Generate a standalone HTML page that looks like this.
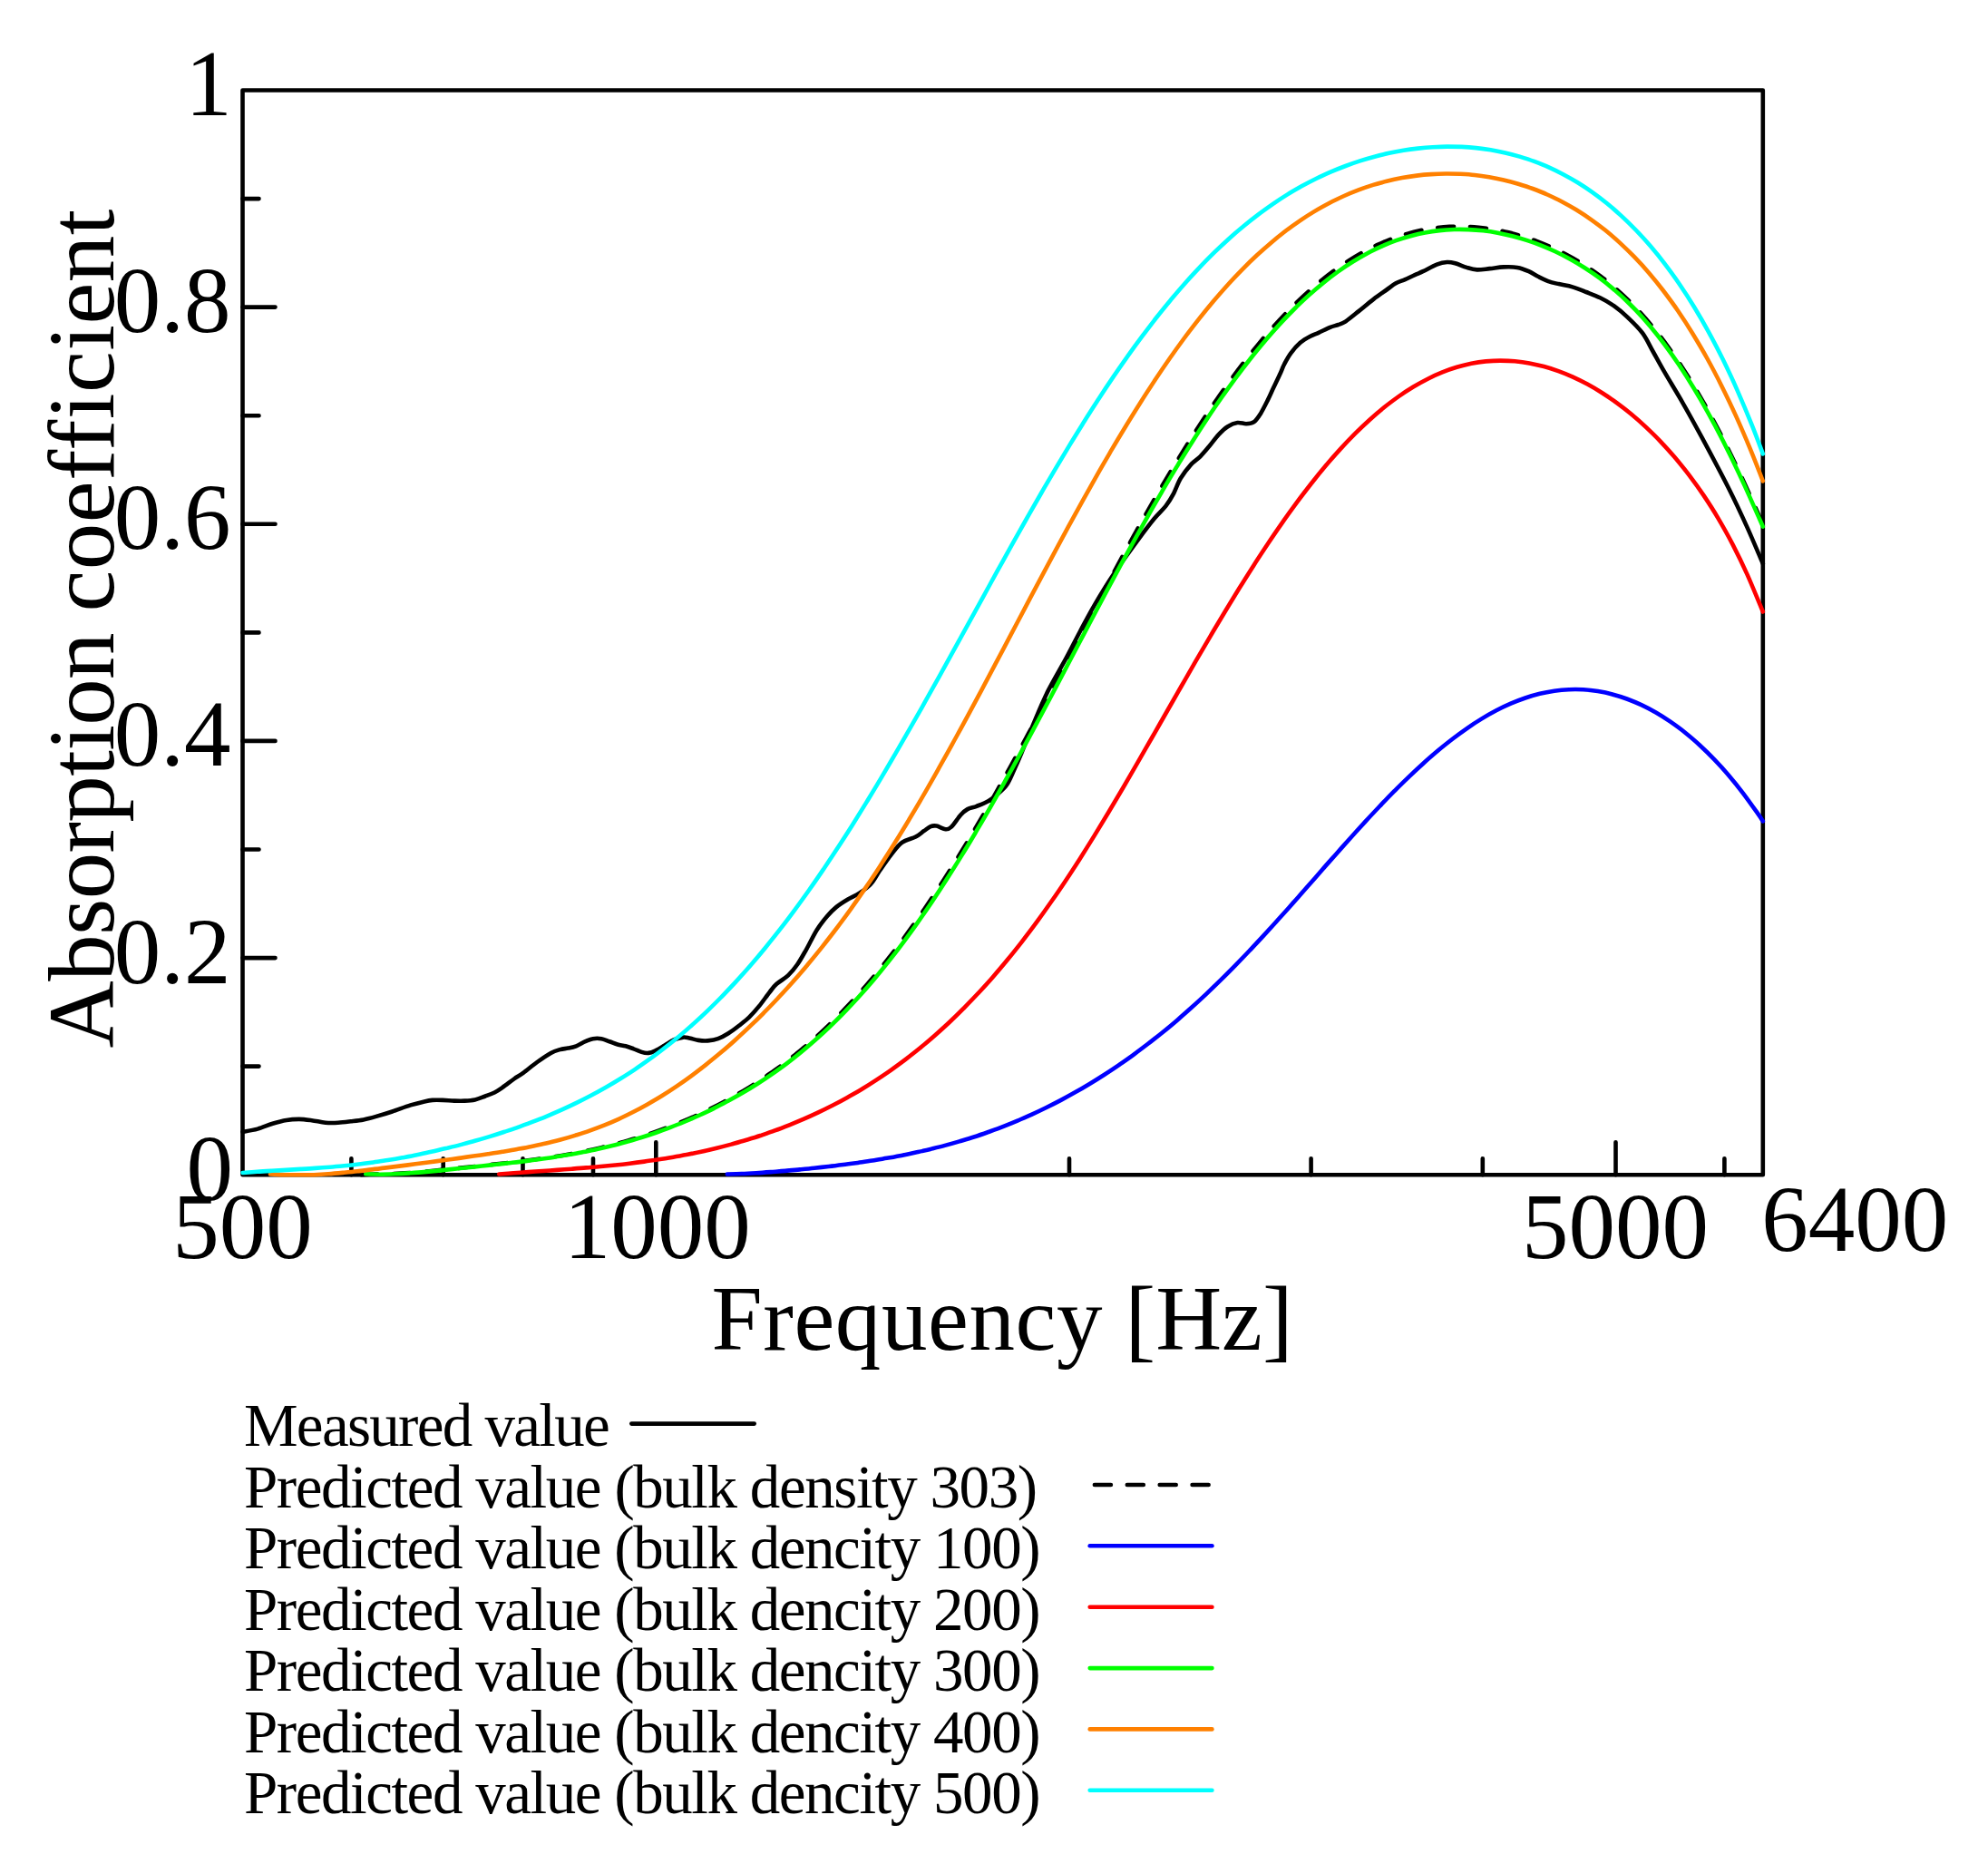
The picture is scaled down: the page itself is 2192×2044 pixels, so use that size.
<!DOCTYPE html>
<html><head><meta charset="utf-8"><title>Absorption coefficient</title>
<style>
html,body{margin:0;padding:0;background:#fff}
svg{display:block}
text{font-family:"Liberation Serif",serif;fill:#000}
</style></head><body>
<svg width="2192" height="2044" viewBox="0 0 2192 2044">
<rect width="2192" height="2044" fill="#fff"/>
<path d="M267.5 1175.6h18M267.5 1056.1h36M267.5 936.5h18M267.5 816.9h36M267.5 697.4h18M267.5 577.8h36M267.5 458.2h18M267.5 338.6h36M267.5 219.1h18M387.4 1295.2v-18M488.7 1295.2v-18M576.5 1295.2v-18M654.0 1295.2v-18M723.3 1295.2v-36M1179.0 1295.2v-18M1445.6 1295.2v-18M1634.8 1295.2v-18M1781.5 1295.2v-36M1901.4 1295.2v-18" stroke="#000" stroke-width="4.6" stroke-linecap="round" fill="none"/>
<rect x="267.5" y="99.5" width="1676.3" height="1195.7" fill="none" stroke="#000" stroke-width="4.6" stroke-linejoin="round"/>
<path d="M267.5 1247.8C270.3 1247.3 278.6 1246.1 284.1 1244.6C289.6 1243.1 295.3 1240.3 300.6 1238.7C305.9 1237.1 311.0 1235.7 315.8 1234.9C320.6 1234.1 325.1 1233.9 329.7 1233.9C334.3 1234.0 338.8 1234.6 343.7 1235.2C348.6 1235.8 354.0 1237.3 358.9 1237.7C363.8 1238.1 368.1 1238.0 372.8 1237.7C377.5 1237.5 382.2 1236.8 386.8 1236.2C391.4 1235.7 396.1 1235.3 400.7 1234.4C405.3 1233.5 409.4 1232.4 414.7 1230.9C420.0 1229.4 426.1 1227.6 432.4 1225.5C438.7 1223.4 446.8 1220.2 452.7 1218.4C458.6 1216.6 463.9 1215.3 467.9 1214.4C471.9 1213.5 473.4 1213.2 476.8 1212.9C480.2 1212.7 484.2 1212.8 488.2 1212.9C492.2 1213.0 496.9 1213.5 500.9 1213.6C504.9 1213.7 508.5 1213.8 512.3 1213.6C516.1 1213.4 519.9 1213.2 523.7 1212.4C527.5 1211.6 531.5 1209.8 535.1 1208.5C538.7 1207.2 542.0 1206.1 545.2 1204.5C548.4 1202.9 550.5 1201.4 554.1 1198.9C557.7 1196.4 563.0 1192.2 566.8 1189.5C570.6 1186.8 572.7 1186.0 576.9 1182.9C581.1 1179.8 587.1 1174.7 592.2 1171.0C597.3 1167.3 603.2 1163.2 607.4 1160.9C611.6 1158.6 614.3 1158.0 617.5 1157.1C620.7 1156.2 623.4 1156.2 626.4 1155.6C629.4 1155.0 632.1 1154.5 635.3 1153.3C638.5 1152.1 642.3 1149.5 645.4 1148.2C648.5 1146.9 650.8 1145.7 653.8 1145.2C656.8 1144.7 660.1 1144.7 663.1 1145.2C666.1 1145.7 669.0 1147.2 672.0 1148.2C675.0 1149.2 677.9 1150.7 680.9 1151.5C683.9 1152.3 686.8 1152.5 689.8 1153.3C692.8 1154.1 695.6 1155.2 698.6 1156.3C701.6 1157.4 704.8 1159.1 707.5 1159.9C710.2 1160.7 712.6 1161.2 715.1 1160.9C717.6 1160.6 719.7 1159.7 722.7 1158.3C725.7 1156.9 729.5 1154.5 732.9 1152.5C736.3 1150.5 739.6 1147.9 743.0 1146.4C746.4 1144.9 750.4 1143.9 753.2 1143.6C756.0 1143.3 757.2 1143.9 760.0 1144.4C762.8 1145.0 766.7 1146.4 770.1 1146.9C773.5 1147.4 776.7 1147.7 780.3 1147.4C783.9 1147.1 787.9 1146.6 791.7 1145.2C795.5 1143.8 799.3 1141.7 803.1 1139.3C806.9 1136.9 810.7 1134.0 814.5 1131.0C818.3 1128.0 822.1 1125.3 825.9 1121.6C829.7 1117.9 833.5 1113.6 837.3 1108.9C841.1 1104.2 845.5 1097.7 848.7 1093.7C851.9 1089.7 852.9 1087.8 856.3 1084.8C859.7 1081.8 865.2 1079.0 869.0 1075.4C872.8 1071.8 875.8 1068.2 879.2 1063.3C882.6 1058.4 885.7 1052.6 889.3 1046.3C892.9 1040.0 896.9 1031.2 900.7 1025.2C904.5 1019.2 908.5 1014.2 912.1 1010.0C915.7 1005.8 918.5 1003.0 922.3 999.9C926.1 996.8 930.7 994.0 934.9 991.5C939.1 989.0 943.4 987.5 947.6 984.7C951.8 981.9 956.5 978.7 960.3 974.5C964.1 970.3 966.6 964.8 970.4 959.3C974.2 953.8 979.1 946.7 983.1 941.6C987.1 936.5 990.1 932.1 994.5 928.9C998.9 925.7 1005.7 924.6 1009.7 922.5C1013.7 920.4 1015.9 918.1 1018.6 916.2C1021.4 914.3 1023.9 912.0 1026.2 911.1C1028.5 910.2 1029.8 910.1 1032.6 910.6C1035.3 911.1 1040.0 914.0 1042.7 914.2C1045.4 914.4 1046.2 914.2 1049.0 911.6C1051.8 909.0 1056.2 901.8 1059.2 898.5C1062.2 895.2 1063.8 893.7 1066.8 892.1C1069.8 890.5 1073.1 890.3 1076.9 888.8C1080.7 887.3 1085.8 885.4 1089.6 883.2C1093.4 881.0 1096.4 878.6 1099.8 875.6C1103.2 872.6 1107.0 869.7 1109.9 865.5C1112.9 861.3 1114.8 856.2 1117.5 850.3C1120.2 844.4 1122.6 839.0 1126.4 830.0C1130.2 821.0 1135.5 807.5 1140.3 796.1C1145.1 784.8 1149.6 773.7 1155.5 761.9C1161.4 750.1 1169.9 736.1 1175.8 725.1C1181.7 714.1 1185.9 705.5 1191.0 696.0C1196.1 686.5 1199.9 678.9 1206.2 668.1C1212.5 657.3 1220.1 644.6 1229.1 631.3C1238.1 618.0 1252.7 598.1 1260.0 588.2C1267.3 578.3 1268.5 576.8 1272.7 571.7C1276.9 566.6 1281.8 562.4 1285.4 557.8C1289.0 553.1 1291.5 548.9 1294.2 543.8C1296.9 538.7 1298.6 532.6 1301.8 527.3C1305.0 522.0 1309.6 516.1 1313.2 512.1C1316.8 508.1 1320.0 506.7 1323.4 503.3C1326.8 499.9 1330.1 495.8 1333.5 491.8C1336.9 487.8 1340.3 482.8 1343.7 479.2C1347.1 475.6 1350.3 472.5 1353.8 470.3C1357.2 468.1 1361.0 466.5 1364.4 466.0C1367.8 465.5 1371.0 467.3 1374.1 467.2C1377.1 467.1 1380.0 467.0 1382.7 465.1C1385.4 463.2 1387.5 459.8 1390.0 455.9C1392.5 451.9 1395.4 446.0 1397.7 441.4C1400.0 436.8 1401.5 433.2 1403.9 428.1C1406.3 423.0 1410.1 415.1 1412.1 410.7C1414.1 406.3 1414.2 405.1 1416.1 401.5C1418.0 397.9 1420.4 393.3 1423.3 389.4C1426.2 385.4 1430.1 380.9 1433.7 377.8C1437.3 374.7 1441.4 372.5 1444.8 370.7C1448.2 368.9 1450.3 368.4 1453.9 366.8C1457.5 365.2 1463.0 362.4 1466.6 360.9C1470.2 359.4 1472.7 359.1 1475.6 358.0C1478.5 356.9 1480.0 356.8 1483.8 354.3C1487.5 351.8 1493.0 347.2 1498.1 343.1C1503.2 339.0 1509.4 333.7 1514.5 329.8C1519.6 325.9 1524.8 322.4 1528.9 319.5C1533.0 316.6 1535.7 314.2 1539.1 312.3C1542.5 310.4 1545.8 309.7 1549.3 308.2C1552.8 306.7 1556.7 304.6 1560.0 303.1C1563.3 301.6 1565.0 301.1 1569.0 299.2C1573.0 297.3 1579.8 293.3 1584.2 291.6C1588.6 289.9 1592.2 289.2 1595.6 289.0C1599.0 288.8 1600.9 289.3 1604.5 290.3C1608.1 291.3 1613.2 293.7 1617.2 294.9C1621.2 296.1 1624.4 297.2 1628.6 297.4C1632.8 297.6 1637.7 296.6 1642.6 296.1C1647.5 295.6 1652.7 294.6 1657.8 294.4C1662.9 294.2 1668.3 294.1 1673.0 294.9C1677.7 295.7 1681.9 297.5 1685.7 299.2C1689.5 300.9 1692.2 303.0 1695.8 304.8C1699.4 306.6 1703.4 308.7 1707.2 310.1C1711.0 311.5 1714.2 312.1 1718.6 313.1C1723.0 314.2 1728.7 314.9 1733.8 316.4C1738.9 317.9 1743.9 320.0 1749.0 322.0C1754.1 324.0 1759.2 325.8 1764.3 328.3C1769.4 330.8 1774.4 333.6 1779.5 337.2C1784.6 340.8 1789.4 344.9 1794.7 349.9C1800.0 354.9 1806.6 361.1 1811.2 367.4C1815.8 373.7 1818.6 380.4 1822.6 387.5C1826.6 394.6 1829.8 400.7 1835.3 410.2C1840.8 419.7 1848.6 432.3 1855.5 444.3C1862.4 456.3 1868.2 466.8 1876.6 482.4C1885.0 498.0 1897.6 521.5 1905.9 538.0C1914.2 554.5 1920.3 567.7 1926.6 581.6C1932.9 595.5 1940.9 614.9 1943.8 621.5" fill="none" stroke="#000" stroke-width="4.6" stroke-linecap="round" stroke-linejoin="round"/>
<path d="M398.3 1295.1C401.0 1295.0 409.0 1294.7 414.3 1294.5C419.6 1294.3 425.0 1294.4 430.3 1294.2C435.6 1294.0 441.0 1293.7 446.3 1293.4C451.6 1293.1 457.0 1292.7 462.3 1292.2C467.6 1291.8 473.0 1291.2 478.3 1290.7C483.6 1290.2 489.0 1289.6 494.3 1289.1C499.6 1288.5 505.0 1288.0 510.3 1287.4C515.6 1286.8 521.0 1286.3 526.3 1285.7C531.6 1285.1 537.0 1284.5 542.3 1283.9C547.6 1283.3 553.0 1282.8 558.3 1282.2C563.6 1281.6 569.0 1281.0 574.3 1280.3C579.6 1279.6 585.0 1278.9 590.3 1278.2C595.6 1277.5 601.0 1276.7 606.3 1275.9C611.6 1275.1 617.0 1274.3 622.3 1273.4C627.6 1272.5 633.0 1271.5 638.3 1270.5C643.6 1269.5 649.0 1268.4 654.3 1267.2C659.6 1266.0 665.0 1264.7 670.3 1263.4C675.6 1262.1 681.0 1260.7 686.3 1259.2C691.6 1257.7 697.0 1256.2 702.3 1254.6C707.6 1253.0 713.0 1251.2 718.3 1249.4C723.6 1247.6 729.0 1245.7 734.3 1243.7C739.6 1241.7 745.0 1239.6 750.3 1237.4C755.6 1235.2 761.0 1232.9 766.3 1230.5C771.6 1228.1 777.0 1225.5 782.3 1222.9C787.6 1220.3 793.0 1217.6 798.3 1214.7C803.6 1211.8 809.0 1208.9 814.3 1205.8C819.6 1202.7 825.0 1199.5 830.3 1196.1C835.6 1192.7 841.0 1189.2 846.3 1185.5C851.6 1181.8 857.0 1178.1 862.3 1174.1C867.6 1170.1 873.0 1165.9 878.3 1161.6C883.6 1157.3 889.0 1152.9 894.3 1148.2C899.6 1143.5 905.0 1138.7 910.3 1133.6C915.6 1128.5 921.0 1123.2 926.3 1117.8C931.6 1112.3 937.0 1106.8 942.3 1100.9C947.6 1095.1 953.0 1089.0 958.3 1082.7C963.6 1076.4 969.0 1070.0 974.3 1063.3C979.6 1056.6 985.0 1049.8 990.3 1042.7C995.6 1035.6 1001.0 1028.4 1006.3 1020.9C1011.6 1013.4 1017.0 1005.7 1022.3 997.8C1027.6 989.9 1033.0 981.9 1038.3 973.7C1043.6 965.5 1049.0 957.0 1054.3 948.4C1059.6 939.8 1065.0 930.9 1070.3 922.0C1075.6 913.1 1081.0 904.0 1086.3 894.8C1091.6 885.6 1097.0 876.1 1102.3 866.6C1107.6 857.1 1113.0 847.4 1118.3 837.7C1123.6 828.0 1129.0 818.1 1134.3 808.2C1139.6 798.3 1145.0 788.3 1150.3 778.3C1155.6 768.3 1161.0 758.1 1166.3 748.0C1171.6 737.9 1177.0 727.6 1182.3 717.5C1187.6 707.4 1193.0 697.2 1198.3 687.1C1203.6 677.0 1209.0 666.9 1214.3 656.9C1219.6 646.9 1225.0 636.9 1230.3 627.0C1235.6 617.1 1241.0 607.4 1246.3 597.7C1251.6 588.0 1257.0 578.4 1262.3 569.0C1267.6 559.6 1273.0 550.2 1278.3 541.1C1283.6 532.0 1289.0 522.9 1294.3 514.1C1299.6 505.3 1305.0 496.6 1310.3 488.1C1315.6 479.6 1321.0 471.3 1326.3 463.2C1331.6 455.1 1337.0 447.2 1342.3 439.5C1347.6 431.8 1353.0 424.4 1358.3 417.1C1363.6 409.8 1369.0 402.7 1374.3 395.9C1379.6 389.1 1385.0 382.5 1390.3 376.1C1395.6 369.8 1401.0 363.7 1406.3 357.8C1411.6 351.9 1417.0 346.2 1422.3 340.8C1427.6 335.4 1433.0 330.3 1438.3 325.4C1443.6 320.5 1449.0 315.8 1454.3 311.4C1459.6 307.0 1465.0 302.8 1470.3 298.9C1475.6 295.0 1481.0 291.3 1486.3 287.9C1491.6 284.5 1497.0 281.2 1502.3 278.3C1507.6 275.4 1513.0 272.7 1518.3 270.2C1523.6 267.7 1529.0 265.4 1534.3 263.4C1539.6 261.4 1545.0 259.7 1550.3 258.1C1555.6 256.6 1561.0 255.2 1566.3 254.1C1571.6 253.0 1577.0 252.1 1582.3 251.4C1587.6 250.7 1593.0 250.2 1598.3 249.9C1603.6 249.6 1609.0 249.6 1614.3 249.7C1619.6 249.8 1625.0 250.2 1630.3 250.7C1635.6 251.2 1641.0 251.9 1646.3 252.8C1651.6 253.7 1657.0 254.8 1662.3 256.1C1667.6 257.4 1673.0 258.8 1678.3 260.4C1683.6 262.0 1689.0 263.8 1694.3 265.8C1699.6 267.8 1705.0 270.0 1710.3 272.4C1715.6 274.8 1721.0 277.4 1726.3 280.2C1731.6 283.0 1737.0 286.0 1742.3 289.3C1747.6 292.6 1753.0 296.1 1758.3 299.9C1763.6 303.7 1769.0 307.6 1774.3 312.0C1779.6 316.4 1785.0 321.1 1790.3 326.1C1795.6 331.1 1801.0 336.4 1806.3 342.1C1811.6 347.8 1817.0 353.9 1822.3 360.4C1827.6 366.9 1833.0 373.8 1838.3 381.1C1843.6 388.4 1849.0 396.1 1854.3 404.2C1859.6 412.3 1865.0 420.9 1870.3 429.9C1875.6 438.9 1881.0 448.3 1886.3 458.1C1891.6 467.9 1897.0 478.1 1902.3 488.7C1907.6 499.3 1913.0 510.4 1918.3 521.7C1923.6 533.0 1930.0 547.2 1934.3 556.7C1938.5 566.2 1942.2 574.8 1943.8 578.4" fill="none" stroke="#000" stroke-width="4.6" stroke-linecap="round" stroke-linejoin="round" stroke-dasharray="18 17.9"/>
<path d="M801.8 1294.5C804.5 1294.4 812.5 1294.2 817.8 1294.0C823.1 1293.8 828.5 1293.5 833.8 1293.2C839.1 1292.9 844.5 1292.5 849.8 1292.1C855.1 1291.7 860.5 1291.4 865.8 1290.9C871.1 1290.5 876.5 1289.9 881.8 1289.4C887.1 1288.9 892.5 1288.4 897.8 1287.8C903.1 1287.2 908.5 1286.6 913.8 1286.0C919.1 1285.4 924.5 1284.7 929.8 1284.0C935.1 1283.3 940.5 1282.7 945.8 1281.9C951.1 1281.2 956.5 1280.3 961.8 1279.5C967.1 1278.7 972.5 1277.7 977.8 1276.8C983.1 1275.9 988.5 1274.9 993.8 1273.9C999.1 1272.9 1004.5 1271.8 1009.8 1270.6C1015.1 1269.4 1020.5 1268.2 1025.8 1266.9C1031.1 1265.6 1036.5 1264.3 1041.8 1262.9C1047.1 1261.5 1052.5 1260.0 1057.8 1258.4C1063.1 1256.8 1068.5 1255.2 1073.8 1253.5C1079.1 1251.8 1084.5 1249.9 1089.8 1248.0C1095.1 1246.1 1100.5 1244.2 1105.8 1242.1C1111.1 1240.0 1116.5 1237.8 1121.8 1235.6C1127.1 1233.3 1132.5 1231.0 1137.8 1228.6C1143.1 1226.2 1148.5 1223.6 1153.8 1221.0C1159.1 1218.4 1164.5 1215.7 1169.8 1212.9C1175.1 1210.1 1180.5 1207.1 1185.8 1204.1C1191.1 1201.1 1196.5 1197.9 1201.8 1194.7C1207.1 1191.5 1212.5 1188.1 1217.8 1184.7C1223.1 1181.3 1228.5 1177.8 1233.8 1174.1C1239.1 1170.4 1244.5 1166.7 1249.8 1162.8C1255.1 1158.9 1260.5 1154.9 1265.8 1150.8C1271.1 1146.7 1276.5 1142.5 1281.8 1138.2C1287.1 1133.9 1292.5 1129.5 1297.8 1124.9C1303.1 1120.3 1308.5 1115.6 1313.8 1110.8C1319.1 1106.0 1324.5 1101.1 1329.8 1096.1C1335.1 1091.1 1340.5 1085.9 1345.8 1080.7C1351.1 1075.5 1356.5 1070.2 1361.8 1064.7C1367.1 1059.2 1372.5 1053.6 1377.8 1048.0C1383.1 1042.4 1388.5 1036.7 1393.8 1030.9C1399.1 1025.1 1404.5 1019.2 1409.8 1013.3C1415.1 1007.4 1420.5 1001.4 1425.8 995.4C1431.1 989.4 1436.5 983.4 1441.8 977.3C1447.1 971.2 1452.5 965.1 1457.8 959.0C1463.1 952.9 1468.5 946.9 1473.8 940.9C1479.1 934.9 1484.5 928.9 1489.8 923.0C1495.1 917.1 1500.5 911.2 1505.8 905.4C1511.1 899.6 1516.5 893.9 1521.8 888.3C1527.1 882.7 1532.5 877.2 1537.8 871.8C1543.1 866.4 1548.5 861.2 1553.8 856.1C1559.1 851.0 1564.5 846.0 1569.8 841.2C1575.1 836.4 1580.5 831.8 1585.8 827.3C1591.1 822.8 1596.5 818.6 1601.8 814.5C1607.1 810.4 1612.5 806.5 1617.8 802.8C1623.1 799.1 1628.5 795.6 1633.8 792.4C1639.1 789.1 1644.5 786.1 1649.8 783.3C1655.1 780.5 1660.5 778.0 1665.8 775.7C1671.1 773.4 1676.5 771.3 1681.8 769.5C1687.1 767.7 1692.5 766.1 1697.8 764.8C1703.1 763.5 1708.5 762.5 1713.8 761.7C1719.1 760.9 1724.5 760.4 1729.8 760.2C1735.1 760.0 1740.5 760.0 1745.8 760.3C1751.1 760.6 1756.5 761.2 1761.8 762.1C1767.1 763.0 1772.5 764.1 1777.8 765.5C1783.1 766.9 1788.5 768.5 1793.8 770.5C1799.1 772.5 1804.5 774.7 1809.8 777.2C1815.1 779.7 1820.5 782.5 1825.8 785.6C1831.1 788.7 1836.5 792.1 1841.8 795.7C1847.1 799.4 1852.5 803.2 1857.8 807.5C1863.1 811.8 1868.5 816.3 1873.8 821.2C1879.1 826.1 1884.5 831.3 1889.8 836.8C1895.1 842.3 1900.5 848.1 1905.8 854.4C1911.1 860.6 1916.5 867.3 1921.8 874.3C1927.1 881.3 1934.1 891.2 1937.8 896.4C1941.5 901.6 1942.8 903.9 1943.8 905.4" fill="none" stroke="#0000ff" stroke-width="4.6" stroke-linecap="round" stroke-linejoin="round"/>
<path d="M550.3 1294.5C553.0 1294.3 561.0 1293.7 566.3 1293.3C571.6 1292.9 577.0 1292.5 582.3 1292.1C587.6 1291.7 593.0 1291.4 598.3 1291.0C603.6 1290.6 609.0 1290.3 614.3 1289.9C619.6 1289.5 625.0 1289.1 630.3 1288.7C635.6 1288.3 641.0 1287.9 646.3 1287.4C651.6 1287.0 657.0 1286.5 662.3 1286.0C667.6 1285.5 673.0 1285.0 678.3 1284.5C683.6 1284.0 689.0 1283.4 694.3 1282.7C699.6 1282.0 705.0 1281.3 710.3 1280.6C715.6 1279.9 721.0 1279.1 726.3 1278.3C731.6 1277.5 737.0 1276.6 742.3 1275.7C747.6 1274.8 753.0 1273.8 758.3 1272.8C763.6 1271.8 769.0 1270.7 774.3 1269.5C779.6 1268.3 785.0 1267.0 790.3 1265.7C795.6 1264.4 801.0 1263.0 806.3 1261.6C811.6 1260.1 817.0 1258.6 822.3 1257.0C827.6 1255.4 833.0 1253.8 838.3 1252.0C843.6 1250.2 849.0 1248.4 854.3 1246.4C859.6 1244.5 865.0 1242.4 870.3 1240.3C875.6 1238.2 881.0 1236.0 886.3 1233.7C891.6 1231.4 897.0 1228.9 902.3 1226.4C907.6 1223.9 913.0 1221.2 918.3 1218.5C923.6 1215.8 929.0 1212.9 934.3 1209.9C939.6 1206.9 945.0 1203.9 950.3 1200.7C955.6 1197.5 961.0 1194.1 966.3 1190.6C971.6 1187.1 977.0 1183.5 982.3 1179.8C987.6 1176.0 993.0 1172.1 998.3 1168.1C1003.6 1164.0 1009.0 1159.8 1014.3 1155.5C1019.6 1151.2 1025.0 1146.7 1030.3 1142.0C1035.6 1137.3 1041.0 1132.5 1046.3 1127.5C1051.6 1122.5 1057.0 1117.3 1062.3 1111.9C1067.6 1106.5 1073.0 1101.0 1078.3 1095.3C1083.6 1089.6 1089.0 1083.8 1094.3 1077.7C1099.6 1071.6 1105.0 1065.3 1110.3 1058.8C1115.6 1052.3 1121.0 1045.6 1126.3 1038.8C1131.6 1032.0 1137.0 1025.0 1142.3 1017.7C1147.6 1010.5 1153.0 1002.9 1158.3 995.3C1163.6 987.7 1169.0 979.9 1174.3 971.9C1179.6 963.9 1185.0 955.7 1190.3 947.4C1195.6 939.1 1201.0 930.5 1206.3 921.9C1211.6 913.2 1217.0 904.4 1222.3 895.5C1227.6 886.6 1233.0 877.6 1238.3 868.5C1243.6 859.4 1249.0 850.1 1254.3 840.9C1259.6 831.6 1265.0 822.3 1270.3 813.0C1275.6 803.7 1281.0 794.3 1286.3 785.0C1291.6 775.7 1297.0 766.3 1302.3 757.0C1307.6 747.7 1313.0 738.4 1318.3 729.2C1323.6 720.0 1329.0 710.8 1334.3 701.8C1339.6 692.8 1345.0 683.8 1350.3 675.0C1355.6 666.2 1361.0 657.4 1366.3 648.8C1371.6 640.2 1377.0 631.7 1382.3 623.4C1387.6 615.1 1393.0 607.0 1398.3 599.0C1403.6 591.0 1409.0 583.2 1414.3 575.6C1419.6 568.0 1425.0 560.6 1430.3 553.4C1435.6 546.2 1441.0 539.3 1446.3 532.5C1451.6 525.7 1457.0 519.1 1462.3 512.8C1467.6 506.5 1473.0 500.4 1478.3 494.6C1483.6 488.8 1489.0 483.2 1494.3 477.9C1499.6 472.6 1505.0 467.5 1510.3 462.7C1515.6 457.9 1521.0 453.3 1526.3 449.0C1531.6 444.7 1537.0 440.8 1542.3 437.0C1547.6 433.2 1553.0 429.7 1558.3 426.5C1563.6 423.3 1569.0 420.4 1574.3 417.7C1579.6 415.0 1585.0 412.5 1590.3 410.4C1595.6 408.2 1601.0 406.4 1606.3 404.8C1611.6 403.2 1617.0 401.9 1622.3 400.8C1627.6 399.7 1633.0 398.9 1638.3 398.4C1643.6 397.9 1649.0 397.6 1654.3 397.6C1659.6 397.6 1665.0 397.7 1670.3 398.2C1675.6 398.7 1681.0 399.4 1686.3 400.4C1691.6 401.4 1697.0 402.6 1702.3 404.0C1707.6 405.4 1713.0 407.2 1718.3 409.1C1723.6 411.0 1729.0 413.2 1734.3 415.6C1739.6 418.0 1745.0 420.7 1750.3 423.6C1755.6 426.5 1761.0 429.6 1766.3 433.0C1771.6 436.4 1777.0 440.0 1782.3 443.9C1787.6 447.8 1793.0 451.9 1798.3 456.3C1803.6 460.7 1809.0 465.4 1814.3 470.4C1819.6 475.4 1825.0 480.5 1830.3 486.1C1835.6 491.7 1841.0 497.6 1846.3 503.8C1851.6 510.1 1857.0 516.6 1862.3 523.6C1867.6 530.6 1873.0 538.0 1878.3 545.9C1883.6 553.8 1889.0 562.1 1894.3 571.1C1899.6 580.1 1905.0 589.6 1910.3 599.9C1915.6 610.2 1920.7 620.5 1926.3 632.9C1931.9 645.3 1940.9 667.6 1943.8 674.5" fill="none" stroke="#ff0000" stroke-width="4.6" stroke-linecap="round" stroke-linejoin="round"/>
<path d="M403.3 1294.3C406.0 1294.4 414.0 1294.7 419.3 1294.7C424.6 1294.7 430.0 1294.5 435.3 1294.3C440.6 1294.1 446.0 1293.8 451.3 1293.4C456.6 1293.0 462.0 1292.6 467.3 1292.1C472.6 1291.6 478.0 1291.1 483.3 1290.6C488.6 1290.1 494.0 1289.5 499.3 1288.9C504.6 1288.3 510.0 1287.8 515.3 1287.2C520.6 1286.6 526.0 1286.1 531.3 1285.5C536.6 1284.9 542.0 1284.4 547.3 1283.8C552.6 1283.2 558.0 1282.6 563.3 1282.0C568.6 1281.4 574.0 1280.8 579.3 1280.1C584.6 1279.4 590.0 1278.7 595.3 1278.0C600.6 1277.3 606.0 1276.5 611.3 1275.7C616.6 1274.9 622.0 1274.0 627.3 1273.1C632.6 1272.2 638.0 1271.1 643.3 1270.1C648.6 1269.0 654.0 1268.0 659.3 1266.8C664.6 1265.6 670.0 1264.3 675.3 1263.0C680.6 1261.7 686.0 1260.2 691.3 1258.7C696.6 1257.2 702.0 1255.7 707.3 1254.0C712.6 1252.3 718.0 1250.5 723.3 1248.7C728.6 1246.9 734.0 1244.9 739.3 1242.9C744.6 1240.9 750.0 1238.7 755.3 1236.5C760.6 1234.3 766.0 1231.9 771.3 1229.5C776.6 1227.1 782.0 1224.6 787.3 1221.9C792.6 1219.2 798.0 1216.5 803.3 1213.6C808.6 1210.7 814.0 1207.7 819.3 1204.6C824.6 1201.5 830.0 1198.2 835.3 1194.8C840.6 1191.4 846.0 1187.8 851.3 1184.1C856.6 1180.4 862.0 1176.6 867.3 1172.6C872.6 1168.6 878.0 1164.4 883.3 1160.0C888.6 1155.6 894.0 1151.0 899.3 1146.3C904.6 1141.6 910.0 1136.7 915.3 1131.6C920.6 1126.5 926.0 1121.2 931.3 1115.7C936.6 1110.2 942.0 1104.4 947.3 1098.5C952.6 1092.6 958.0 1086.5 963.3 1080.2C968.6 1073.9 974.0 1067.3 979.3 1060.6C984.6 1053.9 990.0 1046.9 995.3 1039.8C1000.6 1032.7 1006.0 1025.3 1011.3 1017.8C1016.6 1010.3 1022.0 1002.6 1027.3 994.7C1032.6 986.8 1038.0 978.6 1043.3 970.3C1048.6 962.0 1054.0 953.5 1059.3 944.9C1064.6 936.3 1070.0 927.5 1075.3 918.5C1080.6 909.5 1086.0 900.4 1091.3 891.1C1096.6 881.8 1102.0 872.4 1107.3 862.9C1112.6 853.4 1118.0 843.8 1123.3 834.0C1128.6 824.2 1134.0 814.3 1139.3 804.4C1144.6 794.5 1150.0 784.5 1155.3 774.5C1160.6 764.5 1166.0 754.3 1171.3 744.2C1176.6 734.1 1182.0 723.9 1187.3 713.8C1192.6 703.7 1198.0 693.6 1203.3 683.5C1208.6 673.4 1214.0 663.4 1219.3 653.4C1224.6 643.4 1230.0 633.5 1235.3 623.7C1240.6 613.9 1246.0 604.2 1251.3 594.6C1256.6 585.0 1262.0 575.5 1267.3 566.1C1272.6 556.7 1278.0 547.5 1283.3 538.4C1288.6 529.3 1294.0 520.4 1299.3 511.6C1304.6 502.9 1310.0 494.3 1315.3 485.9C1320.6 477.5 1326.0 469.2 1331.3 461.2C1336.6 453.2 1342.0 445.4 1347.3 437.8C1352.6 430.2 1358.0 422.8 1363.3 415.6C1368.6 408.4 1374.0 401.4 1379.3 394.7C1384.6 388.0 1390.0 381.5 1395.3 375.2C1400.6 368.9 1406.0 362.9 1411.3 357.1C1416.6 351.3 1422.0 345.8 1427.3 340.5C1432.6 335.2 1438.0 330.2 1443.3 325.4C1448.6 320.6 1454.0 316.0 1459.3 311.7C1464.6 307.4 1470.0 303.3 1475.3 299.5C1480.6 295.7 1486.0 292.1 1491.3 288.8C1496.6 285.5 1502.0 282.4 1507.3 279.5C1512.6 276.6 1518.0 274.1 1523.3 271.7C1528.6 269.3 1534.0 267.1 1539.3 265.2C1544.6 263.3 1550.0 261.6 1555.3 260.2C1560.6 258.8 1566.0 257.5 1571.3 256.5C1576.6 255.5 1582.0 254.7 1587.3 254.1C1592.6 253.5 1598.0 253.2 1603.3 253.0C1608.6 252.8 1614.0 252.9 1619.3 253.1C1624.6 253.3 1630.0 253.7 1635.3 254.3C1640.6 254.9 1646.0 255.7 1651.3 256.7C1656.6 257.7 1662.0 258.9 1667.3 260.3C1672.6 261.7 1678.0 263.2 1683.3 264.9C1688.6 266.6 1694.0 268.5 1699.3 270.6C1704.6 272.7 1710.0 275.0 1715.3 277.5C1720.6 280.0 1726.0 282.8 1731.3 285.7C1736.6 288.6 1742.0 291.8 1747.3 295.2C1752.6 298.6 1758.0 302.2 1763.3 306.2C1768.6 310.1 1774.0 314.3 1779.3 318.9C1784.6 323.4 1790.0 328.3 1795.3 333.5C1800.6 338.7 1806.0 344.2 1811.3 350.2C1816.6 356.1 1822.0 362.5 1827.3 369.2C1832.6 375.9 1838.0 383.1 1843.3 390.6C1848.6 398.1 1854.0 406.0 1859.3 414.4C1864.6 422.8 1870.0 431.6 1875.3 440.8C1880.6 450.0 1886.0 459.7 1891.3 469.7C1896.6 479.7 1902.0 490.2 1907.3 501.0C1912.6 511.8 1917.2 521.3 1923.3 534.6C1929.4 547.9 1940.4 572.9 1943.8 580.6" fill="none" stroke="#00ff00" stroke-width="4.6" stroke-linecap="round" stroke-linejoin="round"/>
<path d="M298.0 1294.4C300.7 1294.5 308.7 1295.1 314.0 1295.2C319.3 1295.3 324.7 1295.2 330.0 1295.2C335.3 1295.2 340.7 1295.4 346.0 1295.2C351.3 1295.0 356.7 1294.7 362.0 1294.3C367.3 1293.9 372.7 1293.4 378.0 1292.9C383.3 1292.4 388.7 1291.9 394.0 1291.3C399.3 1290.7 404.7 1290.1 410.0 1289.4C415.3 1288.8 420.7 1288.1 426.0 1287.4C431.3 1286.7 436.7 1286.1 442.0 1285.4C447.3 1284.7 452.7 1284.0 458.0 1283.3C463.3 1282.6 468.7 1281.9 474.0 1281.2C479.3 1280.5 484.7 1279.7 490.0 1279.0C495.3 1278.3 500.7 1277.6 506.0 1276.9C511.3 1276.2 516.7 1275.4 522.0 1274.6C527.3 1273.8 532.7 1273.1 538.0 1272.3C543.3 1271.5 548.7 1270.7 554.0 1269.8C559.3 1268.9 564.7 1268.0 570.0 1267.0C575.3 1266.0 580.7 1265.0 586.0 1263.9C591.3 1262.8 596.7 1261.7 602.0 1260.5C607.3 1259.3 612.7 1257.9 618.0 1256.5C623.3 1255.1 628.7 1253.6 634.0 1251.9C639.3 1250.2 644.7 1248.5 650.0 1246.6C655.3 1244.7 660.7 1242.7 666.0 1240.6C671.3 1238.5 676.7 1236.2 682.0 1233.8C687.3 1231.4 692.7 1228.7 698.0 1226.0C703.3 1223.3 708.7 1220.4 714.0 1217.4C719.3 1214.4 724.7 1211.3 730.0 1208.0C735.3 1204.7 740.7 1201.2 746.0 1197.6C751.3 1194.0 756.7 1190.2 762.0 1186.3C767.3 1182.4 772.7 1178.3 778.0 1174.1C783.3 1169.9 788.7 1165.6 794.0 1161.1C799.3 1156.6 804.7 1152.0 810.0 1147.2C815.3 1142.4 820.7 1137.5 826.0 1132.4C831.3 1127.3 836.7 1122.2 842.0 1116.8C847.3 1111.4 852.7 1105.9 858.0 1100.2C863.3 1094.5 868.7 1088.7 874.0 1082.7C879.3 1076.7 884.7 1070.6 890.0 1064.2C895.3 1057.8 900.7 1051.3 906.0 1044.6C911.3 1037.9 916.7 1031.0 922.0 1024.0C927.3 1017.0 932.7 1009.7 938.0 1002.3C943.3 994.9 948.7 987.2 954.0 979.4C959.3 971.6 964.7 963.6 970.0 955.4C975.3 947.2 980.7 938.8 986.0 930.3C991.3 921.8 996.7 913.1 1002.0 904.2C1007.3 895.3 1012.7 886.3 1018.0 877.1C1023.3 867.9 1028.7 858.6 1034.0 849.1C1039.3 839.6 1044.7 830.1 1050.0 820.4C1055.3 810.7 1060.7 801.0 1066.0 791.1C1071.3 781.2 1076.7 771.3 1082.0 761.3C1087.3 751.3 1092.7 741.3 1098.0 731.2C1103.3 721.1 1108.7 711.0 1114.0 700.9C1119.3 690.8 1124.7 680.7 1130.0 670.6C1135.3 660.5 1140.7 650.3 1146.0 640.3C1151.3 630.2 1156.7 620.2 1162.0 610.3C1167.3 600.4 1172.7 590.5 1178.0 580.7C1183.3 570.9 1188.7 561.2 1194.0 551.6C1199.3 542.0 1204.7 532.5 1210.0 523.1C1215.3 513.7 1220.7 504.5 1226.0 495.4C1231.3 486.3 1236.7 477.4 1242.0 468.7C1247.3 459.9 1252.7 451.3 1258.0 442.9C1263.3 434.5 1268.7 426.3 1274.0 418.3C1279.3 410.3 1284.7 402.4 1290.0 394.8C1295.3 387.2 1300.7 379.7 1306.0 372.5C1311.3 365.3 1316.7 358.4 1322.0 351.6C1327.3 344.9 1332.7 338.3 1338.0 332.0C1343.3 325.7 1348.7 319.6 1354.0 313.7C1359.3 307.8 1364.7 302.2 1370.0 296.8C1375.3 291.4 1380.7 286.2 1386.0 281.3C1391.3 276.4 1396.7 271.7 1402.0 267.2C1407.3 262.7 1412.7 258.4 1418.0 254.3C1423.3 250.2 1428.7 246.4 1434.0 242.8C1439.3 239.2 1444.7 235.8 1450.0 232.6C1455.3 229.4 1460.7 226.5 1466.0 223.7C1471.3 220.9 1476.7 218.4 1482.0 216.0C1487.3 213.6 1492.7 211.4 1498.0 209.4C1503.3 207.4 1508.7 205.6 1514.0 203.9C1519.3 202.2 1524.7 200.8 1530.0 199.5C1535.3 198.2 1540.7 197.1 1546.0 196.1C1551.3 195.1 1556.7 194.3 1562.0 193.6C1567.3 192.9 1572.7 192.4 1578.0 192.1C1583.3 191.8 1588.7 191.6 1594.0 191.5C1599.3 191.4 1604.7 191.6 1610.0 191.8C1615.3 192.1 1620.7 192.4 1626.0 193.0C1631.3 193.6 1636.7 194.4 1642.0 195.3C1647.3 196.2 1652.7 197.3 1658.0 198.5C1663.3 199.7 1668.7 201.1 1674.0 202.7C1679.3 204.3 1684.7 206.0 1690.0 208.0C1695.3 210.0 1700.7 212.1 1706.0 214.5C1711.3 216.9 1716.7 219.4 1722.0 222.2C1727.3 225.0 1732.7 228.0 1738.0 231.3C1743.3 234.6 1748.7 238.1 1754.0 241.8C1759.3 245.6 1764.7 249.5 1770.0 253.8C1775.3 258.1 1780.7 262.7 1786.0 267.6C1791.3 272.5 1796.7 277.7 1802.0 283.2C1807.3 288.7 1812.7 294.5 1818.0 300.7C1823.3 306.9 1828.7 313.5 1834.0 320.5C1839.3 327.5 1844.7 334.7 1850.0 342.5C1855.3 350.3 1860.7 358.5 1866.0 367.2C1871.3 375.9 1876.7 384.9 1882.0 394.5C1887.3 404.1 1892.7 414.2 1898.0 424.9C1903.3 435.5 1908.7 446.6 1914.0 458.4C1919.3 470.1 1925.0 483.4 1930.0 495.4C1935.0 507.4 1941.5 524.5 1943.8 530.3" fill="none" stroke="#ff8000" stroke-width="4.6" stroke-linecap="round" stroke-linejoin="round"/>
<path d="M267.6 1293.0C270.3 1292.8 278.3 1292.2 283.6 1291.8C288.9 1291.4 294.3 1291.1 299.6 1290.8C304.9 1290.5 310.3 1290.2 315.6 1289.9C320.9 1289.6 326.3 1289.2 331.6 1288.9C336.9 1288.6 342.3 1288.3 347.6 1287.9C352.9 1287.5 358.3 1287.1 363.6 1286.7C368.9 1286.3 374.3 1285.8 379.6 1285.3C384.9 1284.8 390.3 1284.2 395.6 1283.5C400.9 1282.8 406.3 1282.2 411.6 1281.4C416.9 1280.7 422.3 1279.8 427.6 1279.0C432.9 1278.2 438.3 1277.3 443.6 1276.3C448.9 1275.3 454.3 1274.3 459.6 1273.2C464.9 1272.1 470.3 1271.0 475.6 1269.8C480.9 1268.6 486.3 1267.4 491.6 1266.1C496.9 1264.8 502.3 1263.5 507.6 1262.1C512.9 1260.7 518.3 1259.3 523.6 1257.8C528.9 1256.3 534.3 1254.7 539.6 1253.1C544.9 1251.5 550.3 1249.8 555.6 1248.0C560.9 1246.2 566.3 1244.5 571.6 1242.6C576.9 1240.7 582.3 1238.8 587.6 1236.7C592.9 1234.7 598.3 1232.5 603.6 1230.3C608.9 1228.1 614.3 1225.8 619.6 1223.4C624.9 1221.0 630.3 1218.5 635.6 1215.9C640.9 1213.3 646.3 1210.6 651.6 1207.8C656.9 1205.0 662.3 1202.0 667.6 1199.0C672.9 1196.0 678.3 1192.8 683.6 1189.5C688.9 1186.2 694.3 1182.8 699.6 1179.3C704.9 1175.8 710.3 1172.0 715.6 1168.2C720.9 1164.4 726.3 1160.3 731.6 1156.2C736.9 1152.1 742.3 1147.8 747.6 1143.4C752.9 1139.0 758.3 1134.4 763.6 1129.6C768.9 1124.8 774.3 1119.9 779.6 1114.8C784.9 1109.7 790.3 1104.5 795.6 1099.0C800.9 1093.5 806.3 1087.9 811.6 1082.1C816.9 1076.3 822.3 1070.3 827.6 1064.2C832.9 1058.1 838.3 1051.7 843.6 1045.2C848.9 1038.7 854.3 1032.0 859.6 1025.2C864.9 1018.4 870.3 1011.3 875.6 1004.1C880.9 996.9 886.3 989.5 891.6 982.0C896.9 974.5 902.3 966.8 907.6 958.9C912.9 951.0 918.3 943.0 923.6 934.8C928.9 926.6 934.3 918.3 939.6 909.9C944.9 901.5 950.3 892.8 955.6 884.1C960.9 875.4 966.3 866.6 971.6 857.6C976.9 848.6 982.3 839.5 987.6 830.4C992.9 821.2 998.3 812.0 1003.6 802.7C1008.9 793.4 1014.3 783.9 1019.6 774.4C1024.9 764.9 1030.3 755.4 1035.6 745.8C1040.9 736.2 1046.3 726.5 1051.6 716.9C1056.9 707.2 1062.3 697.6 1067.6 687.9C1072.9 678.2 1078.3 668.5 1083.6 658.8C1088.9 649.1 1094.3 639.4 1099.6 629.7C1104.9 620.1 1110.3 610.4 1115.6 600.9C1120.9 591.4 1126.3 581.9 1131.6 572.5C1136.9 563.1 1142.3 553.7 1147.6 544.5C1152.9 535.3 1158.3 526.1 1163.6 517.1C1168.9 508.1 1174.3 499.2 1179.6 490.4C1184.9 481.6 1190.3 473.0 1195.6 464.5C1200.9 456.0 1206.3 447.7 1211.6 439.5C1216.9 431.3 1222.3 423.2 1227.6 415.4C1232.9 407.5 1238.3 399.9 1243.6 392.4C1248.9 384.9 1254.3 377.5 1259.6 370.4C1264.9 363.2 1270.3 356.3 1275.6 349.5C1280.9 342.7 1286.3 336.2 1291.6 329.8C1296.9 323.4 1302.3 317.2 1307.6 311.2C1312.9 305.2 1318.3 299.5 1323.6 293.9C1328.9 288.3 1334.3 282.9 1339.6 277.7C1344.9 272.5 1350.3 267.5 1355.6 262.7C1360.9 257.9 1366.3 253.3 1371.6 248.9C1376.9 244.5 1382.3 240.3 1387.6 236.3C1392.9 232.3 1398.3 228.5 1403.6 224.8C1408.9 221.2 1414.3 217.7 1419.6 214.4C1424.9 211.1 1430.3 208.1 1435.6 205.1C1440.9 202.1 1446.3 199.3 1451.6 196.7C1456.9 194.1 1462.3 191.7 1467.6 189.4C1472.9 187.1 1478.3 185.0 1483.6 183.0C1488.9 181.0 1494.3 179.1 1499.6 177.4C1504.9 175.7 1510.3 174.1 1515.6 172.7C1520.9 171.3 1526.3 170.0 1531.6 168.8C1536.9 167.7 1542.3 166.7 1547.6 165.8C1552.9 164.9 1558.3 164.2 1563.6 163.6C1568.9 163.0 1574.3 162.5 1579.6 162.2C1584.9 161.9 1590.3 161.6 1595.6 161.6C1600.9 161.6 1606.3 161.7 1611.6 161.9C1616.9 162.2 1622.3 162.6 1627.6 163.1C1632.9 163.6 1638.3 164.3 1643.6 165.2C1648.9 166.1 1654.3 167.2 1659.6 168.4C1664.9 169.6 1670.3 171.0 1675.6 172.6C1680.9 174.2 1686.3 175.9 1691.6 177.9C1696.9 179.9 1702.3 182.0 1707.6 184.4C1712.9 186.8 1718.3 189.4 1723.6 192.2C1728.9 195.0 1734.3 198.0 1739.6 201.3C1744.9 204.6 1750.3 208.1 1755.6 211.9C1760.9 215.7 1766.3 219.7 1771.6 224.0C1776.9 228.3 1782.3 233.0 1787.6 237.9C1792.9 242.8 1798.3 248.0 1803.6 253.5C1808.9 259.0 1814.3 264.9 1819.6 271.1C1824.9 277.3 1830.3 283.9 1835.6 290.9C1840.9 297.9 1846.3 305.2 1851.6 313.0C1856.9 320.8 1862.3 329.0 1867.6 337.7C1872.9 346.4 1878.3 355.6 1883.6 365.3C1888.9 375.0 1894.3 385.2 1899.6 396.0C1904.9 406.8 1910.3 418.2 1915.6 430.3C1920.9 442.4 1926.9 456.7 1931.6 468.4C1936.3 480.1 1941.8 495.1 1943.8 500.4" fill="none" stroke="#00ffff" stroke-width="4.6" stroke-linecap="round" stroke-linejoin="round"/>
<g font-size="103">
<text x="256.9" y="1322.7" text-anchor="end">0</text>
<text x="254.5" y="1083.6" text-anchor="end">0.2</text>
<text x="254.5" y="844.4" text-anchor="end">0.4</text>
<text x="254.5" y="605.3" text-anchor="end">0.6</text>
<text x="254.5" y="366.1" text-anchor="end">0.8</text>
<text x="255.7" y="127.0" text-anchor="end">1</text>
<text x="267.5" y="1386.5" text-anchor="middle">500</text>
<text x="724.7" y="1386.5" text-anchor="middle">1000</text>
<text x="1781.1" y="1386.5" text-anchor="middle">5000</text>
<text x="1942.3" y="1378.5" text-anchor="start">6400</text>
</g>
<text x="784.4" y="1487.6" font-size="101" textLength="431" lengthAdjust="spacing">Frequency</text>
<text x="1240.5" y="1487.6" font-size="101">[Hz]</text>
<text transform="translate(124.8 1155.4) rotate(-90)" font-size="103" textLength="458" lengthAdjust="spacing">Absorption</text>
<text transform="translate(124.8 674.6) rotate(-90)" font-size="103" textLength="444" lengthAdjust="spacing">coefficient</text>
<g font-size="67">
<text x="269" y="1594.4" textLength="403.8" lengthAdjust="spacing">Measured value</text>
<path d="M696.3 1569.6H831.7" stroke="#000" stroke-width="4.6" stroke-linecap="round" fill="none"/>
<text x="269" y="1661.9" textLength="875.0" lengthAdjust="spacing">Predicted value (bulk density 303)</text>
<path d="M1206.9 1637.0H1333.0" stroke="#000" stroke-width="4.6" stroke-linecap="round" fill="none" stroke-dasharray="18 17.9"/>
<text x="269" y="1729.4" textLength="878.5" lengthAdjust="spacing">Predicted value (bulk dencity 100)</text>
<path d="M1201.7 1704.3H1336.4" stroke="#0000ff" stroke-width="4.6" stroke-linecap="round" fill="none"/>
<text x="269" y="1796.9" textLength="878.5" lengthAdjust="spacing">Predicted value (bulk dencity 200)</text>
<path d="M1201.7 1771.7H1336.4" stroke="#ff0000" stroke-width="4.6" stroke-linecap="round" fill="none"/>
<text x="269" y="1864.4" textLength="878.5" lengthAdjust="spacing">Predicted value (bulk dencity 300)</text>
<path d="M1201.7 1839.1H1336.4" stroke="#00ff00" stroke-width="4.6" stroke-linecap="round" fill="none"/>
<text x="269" y="1931.9" textLength="878.5" lengthAdjust="spacing">Predicted value (bulk dencity 400)</text>
<path d="M1201.7 1906.4H1336.4" stroke="#ff8000" stroke-width="4.6" stroke-linecap="round" fill="none"/>
<text x="269" y="1999.4" textLength="878.5" lengthAdjust="spacing">Predicted value (bulk dencity 500)</text>
<path d="M1201.7 1973.8H1336.4" stroke="#00ffff" stroke-width="4.6" stroke-linecap="round" fill="none"/>
</g>
</svg>
</body></html>
